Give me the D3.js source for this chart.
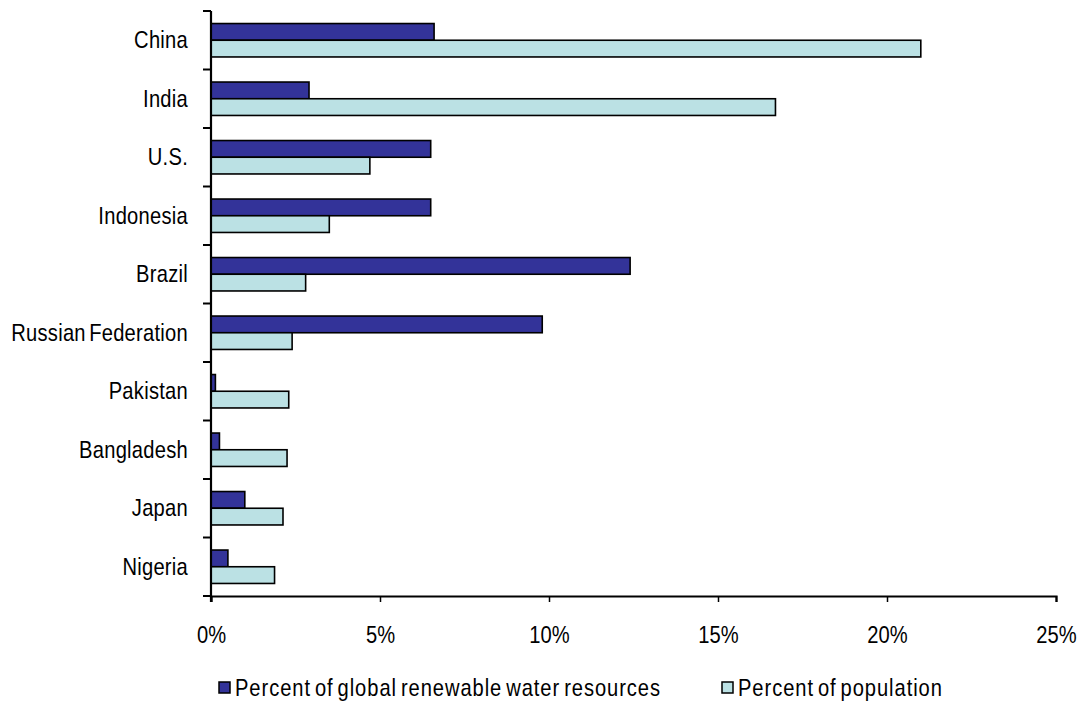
<!DOCTYPE html>
<html>
<head>
<meta charset="utf-8">
<script src="https://cdn.jsdelivr.net/npm/d3@7"></script>
<style>
  html, body { margin: 0; padding: 0; background: #fff; }
  svg text { font-family: "Liberation Sans", Arial, sans-serif; fill: #000; }
</style>
</head>
<body>
<svg id="chart" width="1080" height="702"></svg>
<script>
// Countries, top to bottom
const countries = ["China", "India", "U.S.", "Indonesia", "Brazil", "Russian Federation",
                   "Pakistan", "Bangladesh", "Japan", "Nigeria"];
// Share of global renewable water resources (%)
const waterShare = [6.6, 2.9, 6.5, 6.5, 12.4, 9.8, 0.13, 0.25, 1.0, 0.5];
// Share of world population (%)
const populationShare = [21.0, 16.7, 4.7, 3.5, 2.8, 2.4, 2.3, 2.25, 2.13, 1.88];

const seriesNames = ["Percent of global renewable water resources", "Percent of population"];
const seriesColors = ["#333399", "#bbe1e4"];
const xTicks = [0, 5, 10, 15, 20, 25];

// narrow-looking type: regular sans squeezed horizontally
const FONT_SIZE = 24;
const NARROW = 0.84;

const svg = d3.select("#chart");
const plotLeft = 211, plotRight = 1056, plotTop = 11, plotBottom = 596;

const x = d3.scaleLinear().domain([0, 25]).range([plotLeft, plotRight]);
const y0 = d3.scaleBand().domain(countries).range([plotTop, plotBottom])
  .paddingInner(0.4286).paddingOuter(0.2143);
const y1 = d3.scaleBand().domain(seriesNames).range([0, y0.bandwidth()]);

const rows = countries.map((c, i) => ({ country: c, values: [waterShare[i], populationShare[i]] }));

// bars
const g = svg.append("g");
rows.forEach(r => {
  r.values.forEach((v, k) => {
    g.append("rect")
      .attr("x", x(0))
      .attr("y", y0(r.country) + y1(seriesNames[k]))
      .attr("width", x(v) - x(0))
      .attr("height", y1.bandwidth())
      .attr("fill", seriesColors[k])
      .attr("stroke", "#000")
      .attr("stroke-width", 1.6);
  });
});

// bottom axis
const xAxis = d3.axisBottom(x).tickValues(xTicks).tickSize(6).tickPadding(0)
  .tickFormat(d => d + "%");
const gx = svg.append("g").attr("transform", `translate(0,${plotBottom})`).call(xAxis);
gx.select(".domain").attr("stroke", "#000").attr("stroke-width", 2.2);
gx.selectAll(".tick line").attr("stroke", "#000").attr("stroke-width", 1.5);
gx.selectAll(".tick text")
  .attr("x", null).attr("y", null).attr("dy", null)
  .attr("dominant-baseline", "central")
  .attr("transform", `translate(0,39) scale(${NARROW},1)`)
  .attr("font-size", FONT_SIZE)
  .style("font-family", '"Liberation Sans", Arial, sans-serif');

// left axis: line, ticks at category boundaries, labels at band centres
const step = y0.step();
const boundaries = d3.range(countries.length + 1).map(i => plotTop + i * step);
svg.append("line")
  .attr("x1", plotLeft).attr("x2", plotLeft)
  .attr("y1", plotTop).attr("y2", plotBottom + 6)
  .attr("stroke", "#000").attr("stroke-width", 2.2);
svg.append("g").selectAll("line").data(boundaries).join("line")
  .attr("x1", plotLeft - 8).attr("x2", plotLeft)
  .attr("y1", d => d).attr("y2", d => d)
  .attr("stroke", "#000").attr("stroke-width", 2);
svg.append("g").selectAll("text").data(countries).join("text")
  .attr("transform", d => `translate(188,${y0(d) + y0.bandwidth() / 2}) scale(${NARROW},1)`)
  .attr("text-anchor", "end")
  .attr("dominant-baseline", "central")
  .attr("font-size", FONT_SIZE)
  .attr("letter-spacing", 0.3)
  .attr("word-spacing", -3)
  .text(d => d);

// legend
const legendItems = [
  { name: seriesNames[0], color: seriesColors[0], x: 219 },
  { name: seriesNames[1], color: seriesColors[1], x: 722 }
];
const lg = svg.append("g");
legendItems.forEach(it => {
  lg.append("rect")
    .attr("x", it.x).attr("y", 682)
    .attr("width", 11).attr("height", 11)
    .attr("fill", it.color).attr("stroke", "#000").attr("stroke-width", 1.5);
  lg.append("text")
    .attr("transform", `translate(${it.x + 16},688) scale(${NARROW},1)`)
    .attr("dominant-baseline", "central")
    .attr("font-size", FONT_SIZE)
    .attr("letter-spacing", 1.1)
    .attr("word-spacing", -3)
    .text(it.name);
});
</script>
</body>
</html>
